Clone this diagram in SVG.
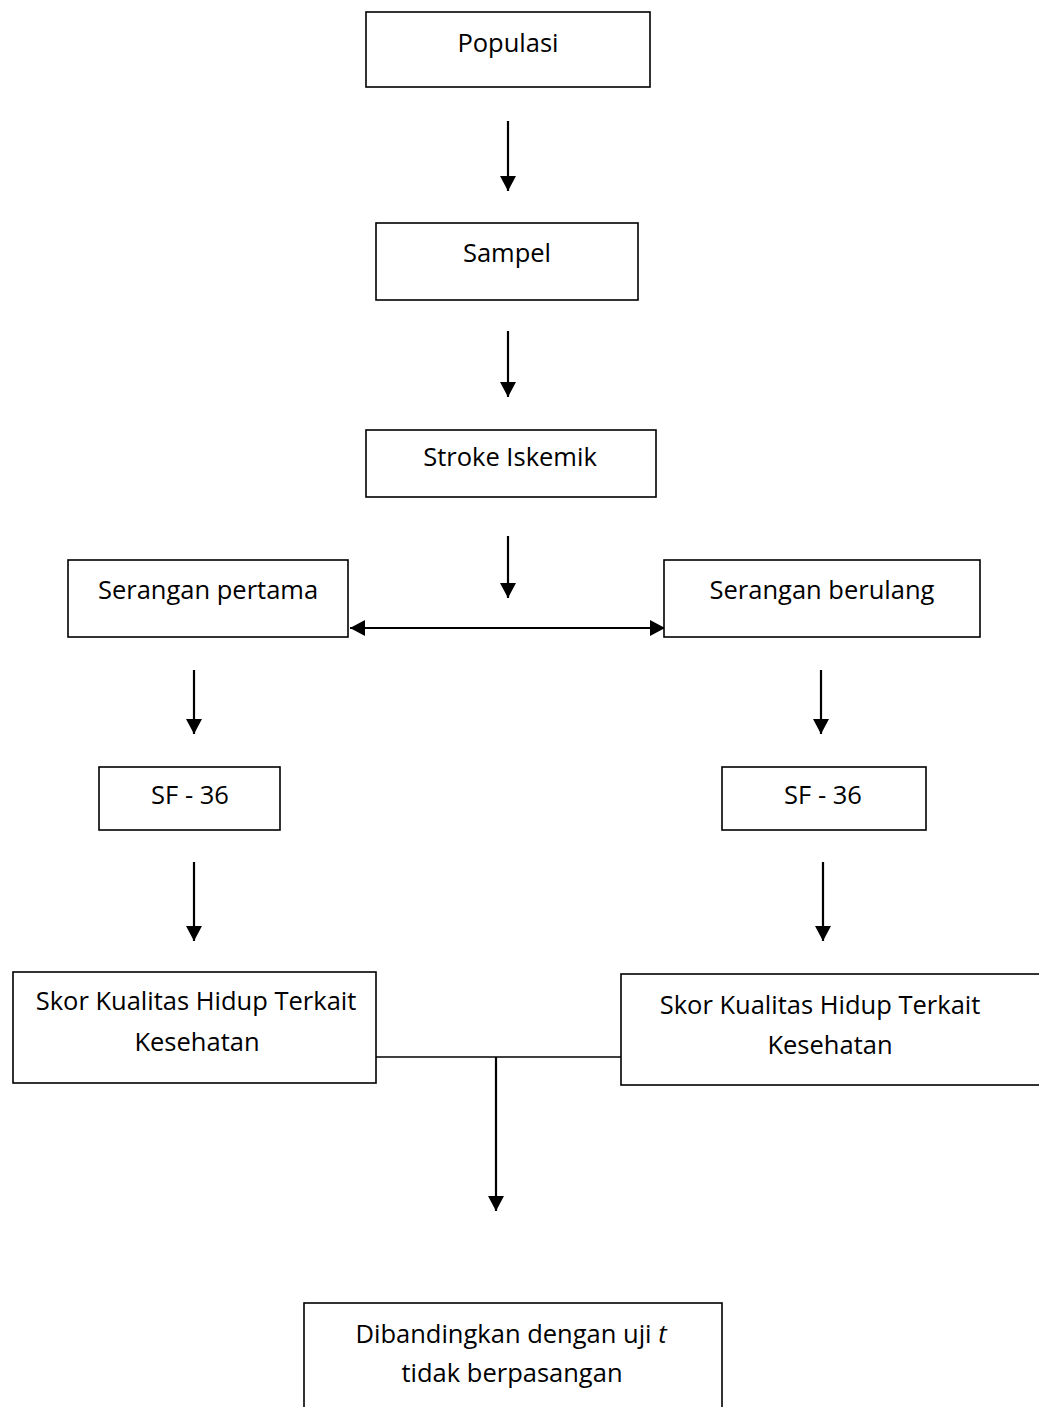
<svg xmlns="http://www.w3.org/2000/svg" width="1039" height="1407" viewBox="0 0 1039 1407">
<style>
.box{fill:#fff;stroke:#000;stroke-width:1.6}
.t{font-family:"Open Sans","Liberation Sans",sans-serif;font-size:25.5px;fill:#000;text-anchor:middle}
.c{stroke:#000;stroke-width:2.2;fill:none}
.l{stroke:#000;stroke-width:1.3;fill:none}
</style>
<defs>
<marker id="ah" viewBox="0 0 15 16" refX="15" refY="8" markerWidth="15" markerHeight="16" markerUnits="userSpaceOnUse" orient="auto-start-reverse">
<path d="M0,0 L15,8 L0,16 z" fill="#000"/>
</marker>
</defs>
<g id="connectors">
<line class="c" x1="508" y1="121" x2="508" y2="191" marker-end="url(#ah)"/>
<line class="c" x1="508" y1="331" x2="508" y2="397" marker-end="url(#ah)"/>
<line class="c" x1="508" y1="536" x2="508" y2="598" marker-end="url(#ah)"/>
<line class="c" x1="350" y1="628" x2="665" y2="628" marker-start="url(#ah)" marker-end="url(#ah)"/>
<line class="c" x1="194" y1="670" x2="194" y2="734" marker-end="url(#ah)"/>
<line class="c" x1="821" y1="670" x2="821" y2="734" marker-end="url(#ah)"/>
<line class="c" x1="194" y1="862" x2="194" y2="941" marker-end="url(#ah)"/>
<line class="c" x1="823" y1="862" x2="823" y2="941" marker-end="url(#ah)"/>
<line class="l" x1="376" y1="1057" x2="621" y2="1057"/>
<line class="c" x1="496" y1="1057" x2="496" y2="1211" marker-end="url(#ah)"/>
</g>
<g id="populasi"><rect class="box" x="366" y="12" width="284" height="75"/><text class="t" x="508" y="52">Populasi</text></g>
<g id="sampel"><rect class="box" x="376" y="223" width="262" height="77"/><text class="t" x="507" y="262">Sampel</text></g>
<g id="stroke"><rect class="box" x="366" y="430" width="290" height="67"/><text class="t" x="510" y="466">Stroke Iskemik</text></g>
<g id="serangan-pertama"><rect class="box" x="68" y="560" width="280" height="77"/><text class="t" x="208" y="599">Serangan pertama</text></g>
<g id="serangan-berulang"><rect class="box" x="664" y="560" width="316" height="77"/><text class="t" x="822" y="599">Serangan berulang</text></g>
<g id="sf36-left"><rect class="box" x="99" y="767" width="181" height="63"/><text class="t" x="190" y="804">SF - 36</text></g>
<g id="sf36-right"><rect class="box" x="722" y="767" width="204" height="63"/><text class="t" x="823" y="804">SF - 36</text></g>
<g id="skor-left"><rect class="box" x="13" y="972" width="363" height="111"/><text class="t" x="196" y="1010">Skor Kualitas Hidup Terkait</text><text class="t" x="197" y="1051">Kesehatan</text></g>
<g id="skor-right"><rect class="box" x="621" y="974" width="430" height="111"/><text class="t" x="820" y="1014">Skor Kualitas Hidup Terkait</text><text class="t" x="830" y="1054">Kesehatan</text></g>
<g id="uji-t"><rect class="box" x="304" y="1303" width="418" height="120"/><text class="t" x="511" y="1343">Dibandingkan dengan uji <tspan font-style="italic">t</tspan></text><text class="t" x="512" y="1382">tidak berpasangan</text></g>
</svg>
